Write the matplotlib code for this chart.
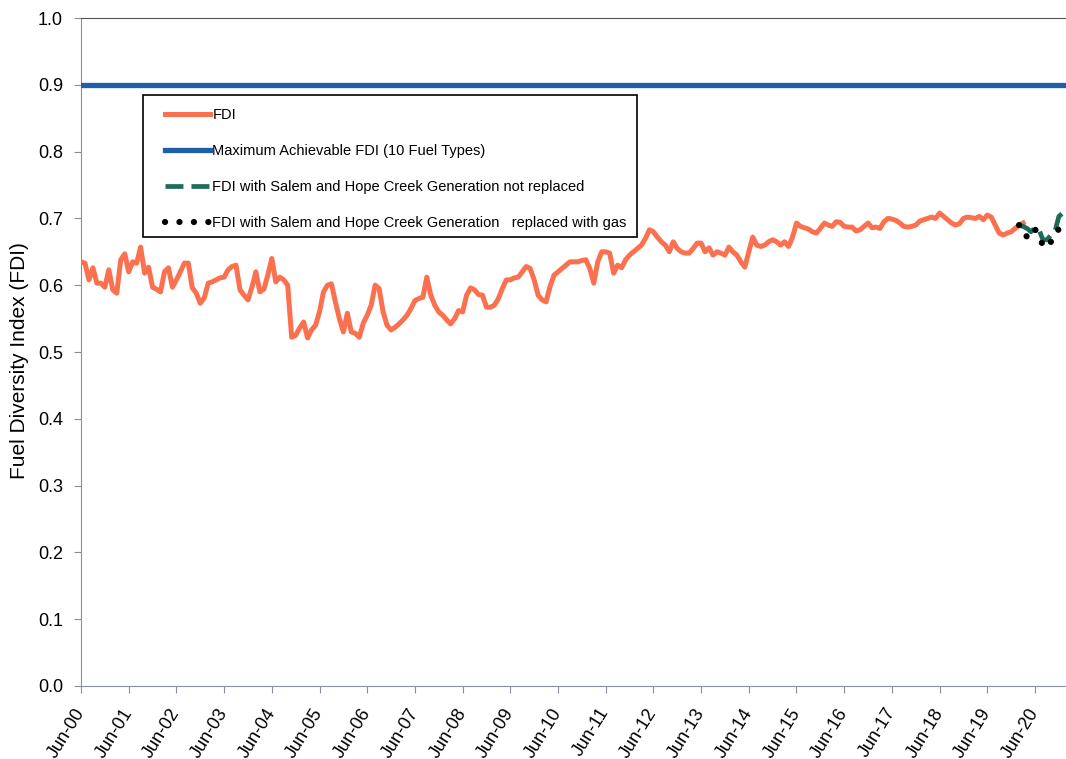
import matplotlib
matplotlib.use("Agg")
import matplotlib.pyplot as plt
from matplotlib.patches import Rectangle
import numpy as np

# monthly FDI, starting Jun-2000
fdi = [
    0.635, 0.633, 0.608, 0.626, 0.603, 0.603, 0.597, 0.623, 0.593, 0.588, 0.638, 0.647,
    0.620, 0.635, 0.633, 0.657, 0.618, 0.627, 0.597, 0.594, 0.590, 0.620, 0.626, 0.597,
    0.608, 0.620, 0.633, 0.633, 0.596, 0.588, 0.573, 0.581, 0.603, 0.605, 0.608, 0.611,
    0.612, 0.623, 0.628, 0.630, 0.593, 0.585, 0.578, 0.597, 0.620, 0.590, 0.594, 0.615,
    0.640, 0.605, 0.612, 0.608, 0.600, 0.522, 0.525, 0.536, 0.545, 0.521, 0.533, 0.540,
    0.560, 0.590, 0.600, 0.602, 0.575, 0.550, 0.530, 0.558, 0.530, 0.528, 0.522, 0.543,
    0.555, 0.570, 0.600, 0.595, 0.560, 0.540, 0.533, 0.537, 0.542, 0.548, 0.555, 0.565,
    0.577, 0.580, 0.582, 0.612, 0.585, 0.570, 0.560, 0.555, 0.548, 0.542, 0.550, 0.562,
    0.560, 0.585, 0.596, 0.593, 0.586, 0.585, 0.567, 0.567, 0.570, 0.580, 0.595, 0.608,
    0.608, 0.611, 0.612, 0.620, 0.628, 0.625, 0.608, 0.585, 0.578, 0.575, 0.598, 0.615,
    0.620, 0.625, 0.630, 0.635, 0.635, 0.635, 0.637, 0.638, 0.625, 0.603, 0.635, 0.650,
    0.650, 0.648, 0.618, 0.630, 0.626, 0.638, 0.645, 0.650, 0.655, 0.660, 0.670, 0.683,
    0.680, 0.672, 0.665, 0.660, 0.650, 0.665, 0.655, 0.650, 0.648, 0.648, 0.655, 0.663,
    0.663, 0.650, 0.656, 0.645, 0.650, 0.648, 0.645, 0.657, 0.650, 0.645, 0.635, 0.627,
    0.650, 0.672, 0.660, 0.658, 0.660, 0.665, 0.668, 0.665, 0.660, 0.665, 0.658, 0.672,
    0.693, 0.688, 0.686, 0.684, 0.680, 0.678, 0.685, 0.693, 0.690, 0.688, 0.695, 0.694,
    0.688, 0.687, 0.687, 0.681, 0.683, 0.688, 0.693, 0.686, 0.687, 0.685, 0.695, 0.700,
    0.699, 0.697, 0.693, 0.688, 0.687, 0.688, 0.690, 0.696, 0.698, 0.700, 0.702, 0.700,
    0.708, 0.703, 0.698, 0.693, 0.690, 0.692, 0.700, 0.702, 0.701, 0.700, 0.703, 0.698,
    0.705, 0.702, 0.690, 0.678, 0.675, 0.678, 0.680, 0.685, 0.690, 0.693,
]

# projections start at month index 236
proj_start = 236
fdi_not_replaced = [0.690, 0.688, 0.685, 0.680, 0.686, 0.683, 0.668, 0.668, 0.675, 0.680, 0.703, 0.708]
fdi_gas = [0.690, 0.675, 0.673, 0.672, 0.684, 0.672, 0.660, 0.656, 0.665, 0.671, 0.685, 0.695]

max_fdi = 0.9

tick_labels = ["Jun-%02d" % y for y in range(0, 21)]
labels = [
    "FDI",
    "Maximum Achievable FDI (10 Fuel Types)",
    "FDI with Salem and Hope Creek Generation not replaced",
    "FDI with Salem and Hope Creek Generation   replaced with gas",
]

plt.rcParams["font.family"] = ["Liberation Sans", "DejaVu Sans"]

fig = plt.figure(figsize=(10.66, 7.59), dpi=100)
W, H = 1066, 759
ax = fig.add_axes([81 / W, 1 - 686 / H, (W - 81) / W, (686 - 18) / H])

x = np.arange(len(fdi))
xp = np.arange(proj_start, proj_start + len(fdi_gas))

ax.plot(x, fdi, color="#fb7150", lw=3.6, solid_joinstyle="round", label=labels[0], zorder=3)
ax.axhline(max_fdi, color="#1f5fa8", lw=3.8, label=labels[1], zorder=3)
ax.plot(xp, fdi_not_replaced, color="#1d6b5a", lw=3.4, linestyle=(0, (3.8, 1.7)),
        label=labels[2], zorder=4)
ax.plot(xp, fdi_gas, color="black", lw=4.5, linestyle=(0, (0.01, 2.3)),
        dash_capstyle="round", label=labels[3], zorder=5)

ax.set_ylim(0, 1.0)
ax.set_xlim(0, (W - 81) / 3.975)
ax.set_yticks(np.arange(0, 1.01, 0.1))
ax.set_yticklabels(["%.1f" % v for v in np.arange(0, 1.01, 0.1)], fontsize=13)
ax.set_xticks(np.arange(0, 241, 12))
ax.set_xticklabels(tick_labels, fontsize=13, rotation=58, ha="right", va="center",
                   rotation_mode="anchor")
ax.tick_params(axis="x", direction="out", length=5, pad=12, color="#8a8fa0")
ax.tick_params(axis="y", direction="out", length=5, pad=8, color="#8a8fa0")

ax.set_ylabel("Fuel Diversity Index (FDI)", fontsize=15)
ax.yaxis.set_label_coords(-52 / (W - 81), (686 - 361) / 668)

for s in ["left", "bottom"]:
    ax.spines[s].set_color("#8a8fa0")
ax.spines["top"].set_color("#555555")
ax.spines["right"].set_visible(False)

# legend frame drawn separately so the padding can differ per side
ax.add_patch(Rectangle((143 / W, 1 - 237 / H), (637 - 143) / W, (237 - 95) / H,
                       transform=fig.transFigure, facecolor="white", edgecolor="black",
                       lw=1.2, zorder=6, clip_on=False))
leg = ax.legend(loc="upper left", bbox_to_anchor=(165 / W, 1 - 108 / H),
                bbox_transform=fig.transFigure, borderaxespad=0, borderpad=0,
                fontsize=10.5, frameon=False, handlelength=3.1, handletextpad=0.15,
                labelspacing=1.52)
leg.set_zorder(7)

fig.savefig("out.png", dpi=100)
